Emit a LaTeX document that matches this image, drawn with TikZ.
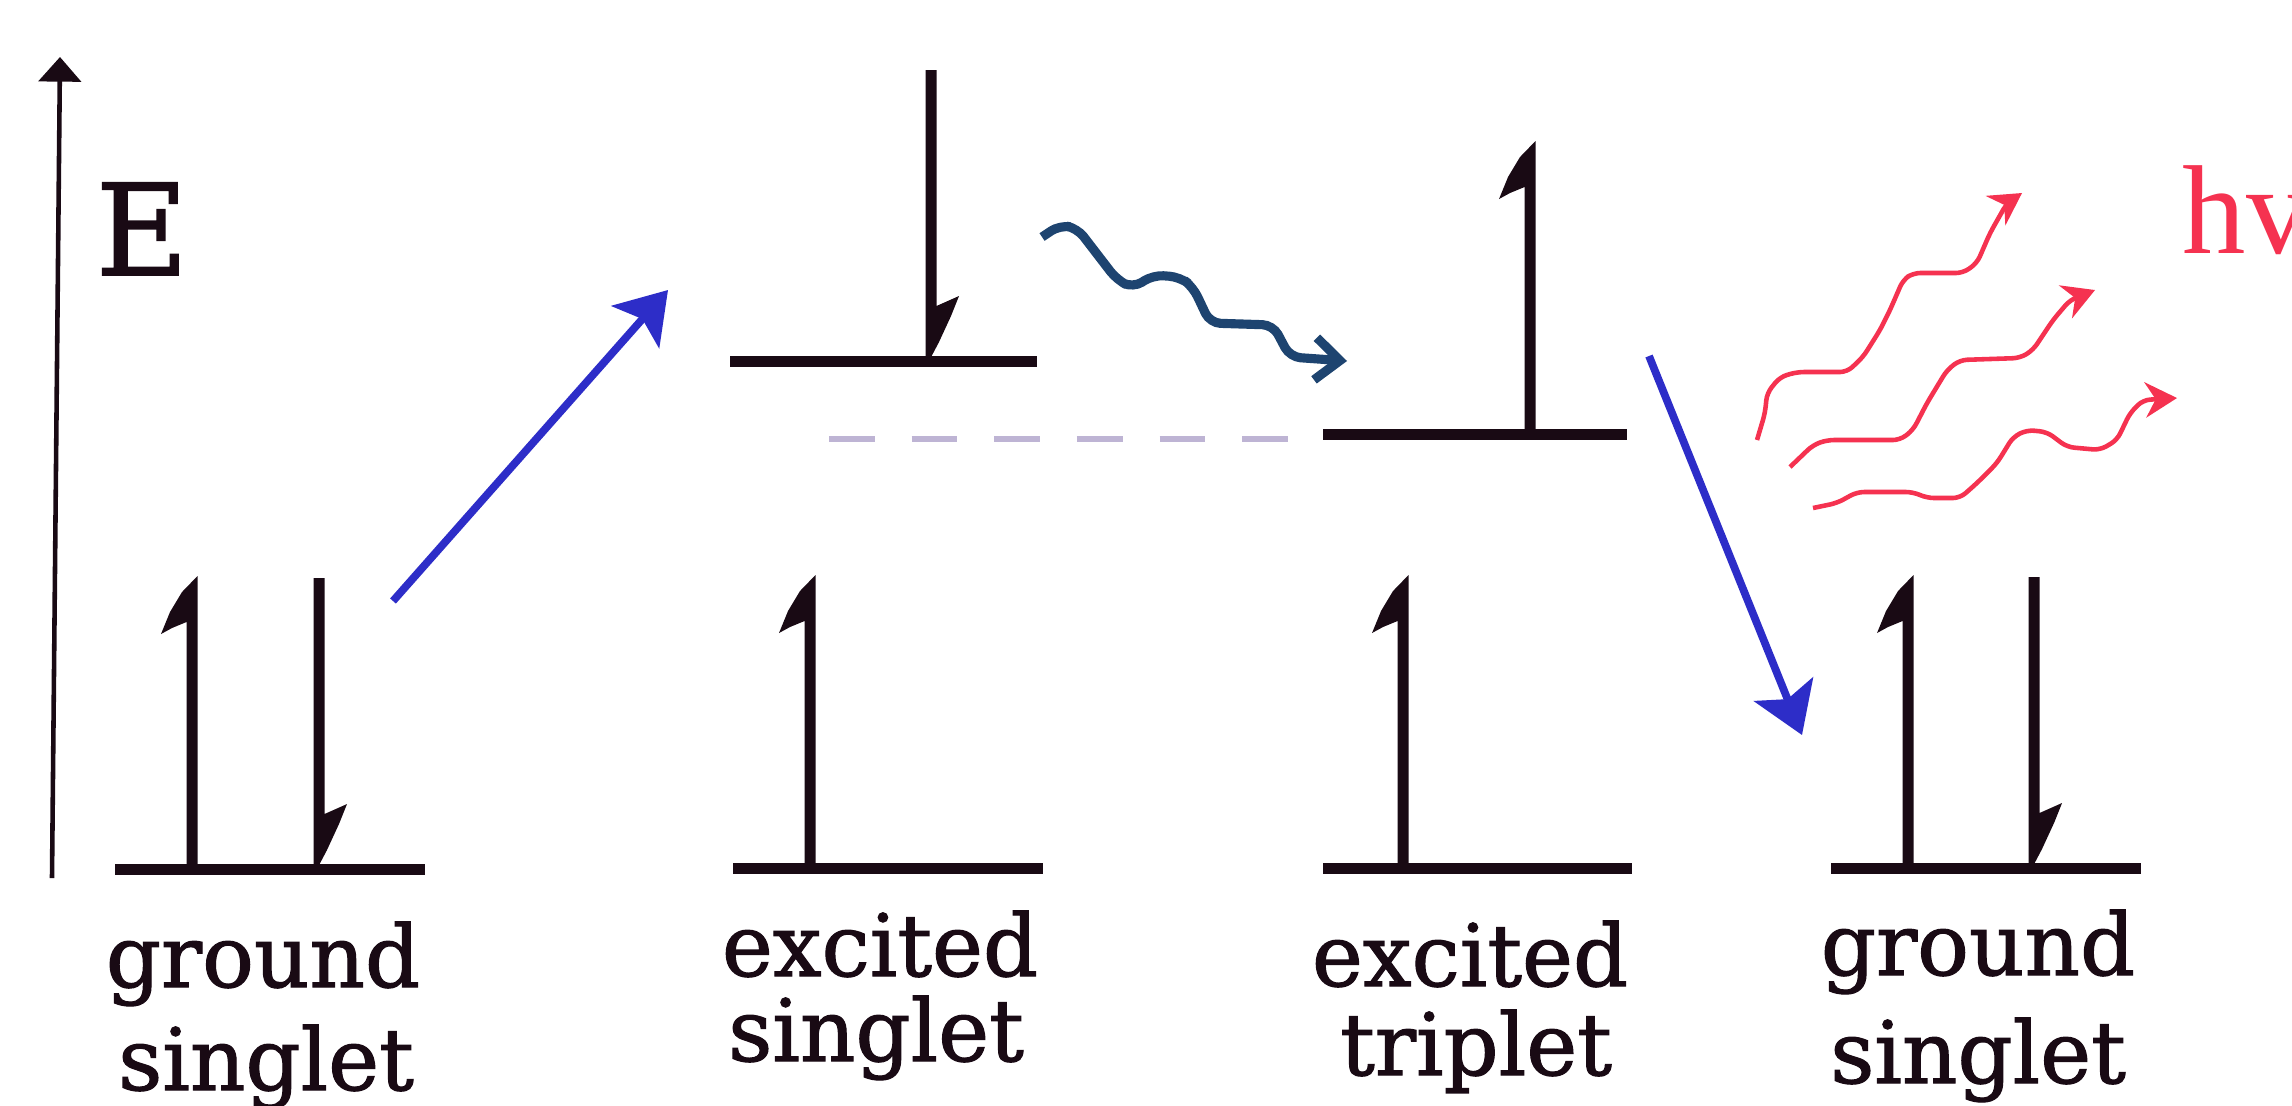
\documentclass[tikz,border=0pt]{standalone}
\usepackage{fontspec}
\setmainfont{DejaVu Serif}
\newfontfamily\lblfont[FakeBold=1.3]{DejaVu Serif}
\newfontfamily\hvfont{Liberation Serif}
\usetikzlibrary{arrows.meta}
\definecolor{ink}{RGB}{25,10,20}
\definecolor{exblue}{RGB}{45,45,200}
\definecolor{iscblue}{RGB}{30,68,112}
\definecolor{photred}{RGB}{245,50,80}
\definecolor{dashgray}{RGB}{190,180,212}
\begin{document}
\begin{tikzpicture}[x=0.01cm,y=-0.01cm,
  level/.style={draw=ink,line width=0.11cm},
  lbl/.style={anchor=base,inner sep=0pt,text=ink,font=\lblfont\fontsize{24.5}{29}\selectfont},
  axisline/.style={draw=ink,line width=1.3pt,-{Triangle[length=7pt,width=12pt]}},
  excite/.style={draw=exblue,line width=2.2pt,-{Stealth[length=14pt,width=18pt,inset=3pt]}},
  isc/.style={draw=iscblue,line width=2.6pt,rounded corners=3pt,-{Straight Barb[length=7pt,width=12pt]}},
  photon/.style={draw=photred,line width=1.3pt,rounded corners=2pt,-{Stealth[length=9pt,width=10pt]}},
  spinup/.pic={\fill[ink] (5.5,291) -- (5.5,-2) -- (-10,14) -- (-22,34) -- (-31,56) -- (-20,50) -- (-5.5,44) -- (-5.5,291) -- cycle;},
  spindown/.pic={\fill[ink] (-5.5,0) -- (5.5,0) -- (5.5,236) -- (28,226) -- (20,246) -- (8,272) -- (-2,291) -- (-5.5,291) -- cycle;}
]
\fill[white] (0,0) rectangle (2292,1105);
\clip (0,0) rectangle (2292,1105);

% energy axis
\coordinate (ax0) at (52,878);
\coordinate (ax1) at (60,57);
\draw[axisline] (ax0) -- (ax1);
\node[anchor=base,inner sep=0pt,text=ink,font=\lblfont\fontsize{36}{40}\selectfont] (E) at (142,275) {E};

% ground singlet (left)
\draw[level] (115,869) -- (425,869);
\pic at (192,578) {spinup};
\pic at (319,578) {spindown};
\node[lbl] (gs1a) at (263,987) {ground};
\node[lbl] (gs1b) at (266,1090) {singlet};

% excited singlet
\draw[level] (730,361) -- (1037,361);
\pic at (931,70) {spindown};
\draw[level] (733,868) -- (1043,868);
\pic at (810,577) {spinup};
\node[lbl] (es1a) at (880,976) {excited};
\node[lbl] (es1b) at (876,1061) {singlet};

% excited triplet
\draw[level] (1323,434) -- (1627,434);
\pic at (1530,143) {spinup};
\draw[level] (1323,868) -- (1632,868);
\pic at (1403,577) {spinup};
\node[lbl] (et1a) at (1470,986) {excited};
\node[lbl] (et1b) at (1476,1075) {triplet};

% ground singlet (right)
\draw[level] (1831,868) -- (2141,868);
\pic at (1908,577) {spinup};
\pic at (2034,577) {spindown};
\node[lbl] (gs2a) at (1978,975) {ground};
\node[lbl] (gs2b) at (1978,1083) {singlet};

% dashed reference line
\draw[dashgray,line width=1.5pt,dash pattern=on 13pt off 10.5pt] (829,439) -- (1290,439);

% excitation and decay arrows
\coordinate (ex0) at (393,601);
\coordinate (ex1) at (668,290);
\draw[excite] (ex0) -- (ex1);
\coordinate (dc0) at (1649,356);
\coordinate (dc1) at (1802,735);
\draw[excite] (dc0) -- (dc1);

% intersystem crossing squiggle
\coordinate (isc0) at (1042,237);
\coordinate (isc1) at (1347,361);
\draw[isc] (isc0) -- (1060,225) -- (1077,228) -- (1117,280) -- (1133,288) -- (1153,275) -- (1180,277) -- (1193,287) -- (1210,323) -- (1273,325) -- (1290,357) -- (isc1);

% emitted photons
\draw[photon] (1757,440) -- (1765,413) -- (1767,393) -- (1780,377) -- (1797,372) -- (1847,372) -- (1863,357) -- (1880,330) -- (1890,310) -- (1903,280) -- (1913,273) -- (1963,273) -- (1977,263) -- (1990,233) -- (2007,203) -- (2022,193);
\draw[photon] (1790,467) -- (1813,445) -- (1827,440) -- (1900,440) -- (1913,430) -- (1927,403) -- (1947,370) -- (1960,360) -- (2020,358) -- (2033,350) -- (2053,320) -- (2070,300) -- (2095,290);
\draw[photon] (1813,508) -- (1837,503) -- (1857,492) -- (1913,492) -- (1927,498) -- (1960,498) -- (1977,483) -- (1997,463) -- (2013,437) -- (2027,430) -- (2047,432) -- (2067,447) -- (2100,450) -- (2117,440) -- (2130,413) -- (2143,400) -- (2177,398);
\node[anchor=base west,inner sep=0pt,text=photred,font=\hvfont\fontsize{36}{40}\selectfont] (hv) at (2182,253) {hv};
\end{tikzpicture}
\end{document}
